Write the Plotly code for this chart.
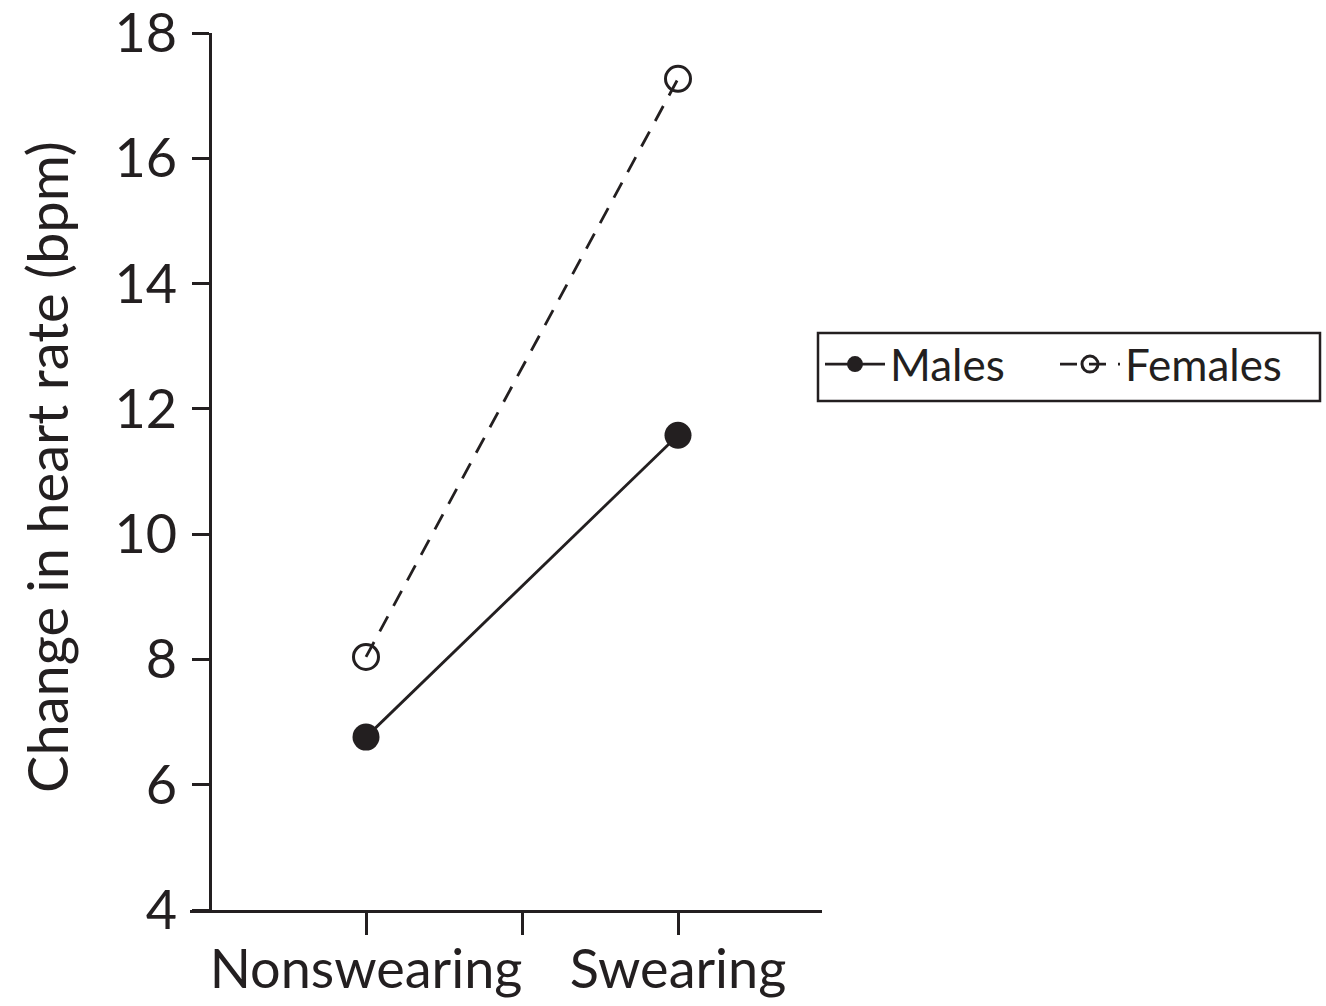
import plotly.graph_objects as go

conditions = ["Nonswearing", "Swearing"]
cond_pos = [1, 3]
males = [6.76, 11.58]
females = [8.04, 17.27]
y_ticks = [4, 6, 8, 10, 12, 14, 16, 18]
x_tickvals = [1, 2, 3]
x_ticktext = ["Nonswearing", "", "Swearing"]
y_title = "Change in heart rate (bpm)"

INK = "#231f20"
FONT = "Lato, 'Open Sans', sans-serif"

fig = go.Figure()
fig.add_trace(go.Scatter(
    x=cond_pos, y=males, name="Males", mode="lines+markers",
    line=dict(color=INK, width=2.8),
    marker=dict(symbol="circle", size=27, color=INK, line=dict(color=INK, width=0)),
))
fig.add_trace(go.Scatter(
    x=cond_pos, y=females, name="Females", mode="lines+markers",
    line=dict(color=INK, width=2.8, dash="17px,12px"),
    marker=dict(symbol="circle-open", size=25, color=INK, line=dict(color=INK, width=3)),
))

# body margin is removed below, so figure coordinates = window coordinates
W, H = 1326, 1006
L, R, T, B = 190, 822, 33, 910
YAX = 210


def px_x(wx):
    return (wx - L) / (R - L)


def px_y(wy):
    return (B - wy) / (B - T)


fig.update_layout(
    width=W, height=H,
    margin=dict(l=L, r=W - R, t=T, b=H - B, pad=0, autoexpand=False),
    paper_bgcolor="white", plot_bgcolor="white",
    font=dict(family=FONT, color=INK),
    showlegend=True,
    legend=dict(
        orientation="h",
        x=px_x(820), xanchor="left",
        y=px_y(329), yanchor="top",
        borderwidth=0,
        font=dict(size=44, family=FONT, color=INK),
        itemwidth=60,
        entrywidth=160,
        bgcolor="rgba(0,0,0,0)",
        tracegroupgap=0,
    ),
    shapes=[dict(
        type="rect", xref="paper", yref="paper",
        x0=px_x(818), x1=px_x(1320), y0=px_y(401), y1=px_y(333),
        line=dict(color=INK, width=2.5), fillcolor="rgba(0,0,0,0)", layer="below",
    )],
    annotations=[dict(
        text=y_title, textangle=-90, xref="paper", yref="paper",
        x=px_x(46), y=px_y(467), xanchor="center", yanchor="middle",
        showarrow=False, font=dict(size=56, family=FONT, color=INK),
    )],
    xaxis=dict(
        range=[-(YAX - L) / 156.0, (R - YAX) / 156.0],
        tickvals=x_tickvals, ticktext=x_ticktext,
        showline=True, linecolor=INK, linewidth=3,
        ticks="outside", ticklen=22, tickwidth=2.5, tickcolor=INK,
        showgrid=False, zeroline=False, automargin=False,
        ticklabelstandoff=-12,
        tickfont=dict(size=54, family=FONT, color=INK),
    ),
    yaxis=dict(
        range=[4, 18.001],
        tickvals=y_ticks,
        anchor="free", position=(YAX - L) / (R - L),
        showline=True, linecolor=INK, linewidth=3,
        ticks="outside", ticklen=17, tickwidth=2.5, tickcolor=INK,
        showgrid=False, zeroline=False, automargin=False,
        ticklabeloverflow="allow",
        tickfont=dict(size=54, family=FONT, color=INK),
        ticklabelstandoff=4,
    ),
)

fig.write_html(
    "out.html",
    config={"displayModeBar": False},
    post_script="document.body.style.margin='0';document.body.style.overflow='hidden';",
)
